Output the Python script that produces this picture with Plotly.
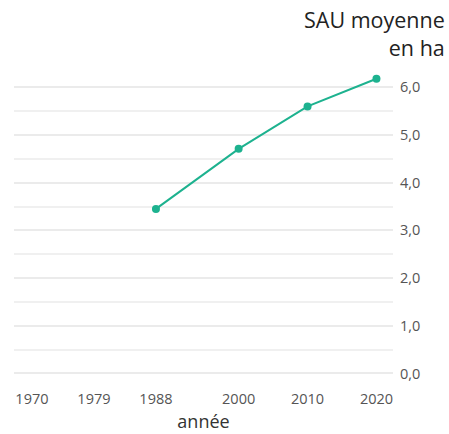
import plotly.graph_objects as go

years = [1988, 2000, 2010, 2020]
sau = [3.45, 4.71, 5.60, 6.18]
x_ticks = [1970, 1979, 1988, 2000, 2010, 2020]
y_ticks = [0, 1, 2, 3, 4, 5, 6]
y_labels = ["0,0", "1,0", "2,0", "3,0", "4,0", "5,0", "6,0"]

fig = go.Figure()
fig.add_trace(go.Scatter(
    x=years, y=sau, mode="lines+markers",
    line=dict(color="#1db28f", width=2),
    marker=dict(color="#1db28f", size=8),
    showlegend=False, hoverinfo="skip",
))

fig.add_annotation(
    text="SAU moyenne<br>en ha", xref="paper", yref="paper",
    x=(447 - 14) / 379, y=1 + (73 - 3) / 310, xanchor="right", yanchor="top",
    align="right", showarrow=False,
    font=dict(size=21.5, color="#222"),
)

fig.update_layout(
    width=449, height=434,
    margin=dict(l=14, r=56, t=73, b=51, autoexpand=False),
    paper_bgcolor="white", plot_bgcolor="white",
    font=dict(family="Open Sans, Lato, sans-serif", color="#555", size=13),
    xaxis=dict(range=[1967.4, 2022.4], tickmode="array", tickvals=x_ticks,
               showgrid=False, zeroline=False, showline=False, ticks="",
               ticklabelstandoff=5, automargin=False,
               title=dict(text="année", font=dict(size=18, color="#333"), standoff=8),
               tickfont=dict(size=14.5, color="#555")),
    yaxis=dict(range=[-0.2, 6.3], side="right", tickmode="array",
               tickvals=y_ticks, ticktext=y_labels, ticklabelstandoff=6,
               automargin=False,
               showgrid=True, gridcolor="#ebebeb", gridwidth=1.5,
               minor=dict(tickmode="array", tickvals=[0.5, 1.5, 2.5, 3.5, 4.5, 5.5],
                          showgrid=True, gridcolor="#f0f0f0", gridwidth=1.5),
               zeroline=False, showline=False, ticks="",
               tickfont=dict(size=14.5, color="#555")),
)

fig.write_html("out.html", config={"displayModeBar": False},
               post_script="document.body.style.margin='0';document.body.style.overflow='hidden';")
